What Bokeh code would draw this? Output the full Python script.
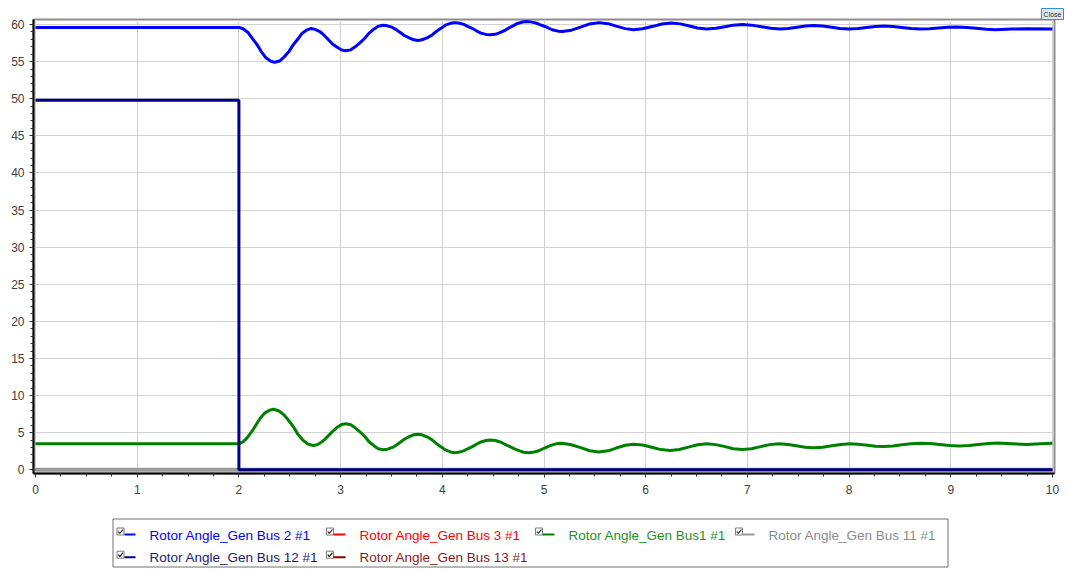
from bokeh.plotting import figure
from bokeh.models import Range1d, SingleIntervalTicker, Title
from bokeh.layouts import column
from bokeh.embed import file_html
from bokeh.resources import INLINE
from bokeh.core.properties import value

# ---------------- data ----------------
bus2_t = [0, 2.0,
          2.04, 2.09, 2.13, 2.18, 2.22, 2.26, 2.31, 2.35,
          2.40, 2.44, 2.49, 2.53, 2.58, 2.62, 2.67, 2.71,
          2.75, 2.80, 2.84, 2.88, 2.92, 2.97, 3.01, 3.05,
          3.10, 3.14, 3.19, 3.24, 3.28, 3.33, 3.37, 3.42,
          3.46, 3.51, 3.55, 3.59, 3.63, 3.68, 3.72, 3.76,
          3.80, 3.85, 3.90, 3.94, 3.99, 4.03, 4.08, 4.12,
          4.16, 4.21, 4.25, 4.30, 4.34, 4.38, 4.43, 4.47,
          4.52, 4.56, 4.61, 4.65, 4.70, 4.74, 4.79, 4.83,
          4.87, 4.92, 4.96, 5.01, 5.05, 5.09, 5.14, 5.18,
          5.27, 5.36, 5.45, 5.54, 5.63, 5.71, 5.80, 5.88,
          5.97, 6.07, 6.16, 6.25, 6.34, 6.43, 6.51, 6.60,
          6.69, 6.78, 6.86, 6.95, 7.04, 7.14, 7.23, 7.32,
          7.40, 7.49, 7.57, 7.65, 7.74, 7.83, 7.91, 8.00,
          8.09, 8.17, 8.26, 8.34, 8.43, 8.52, 8.61, 8.70,
          8.79, 8.88, 8.97, 9.06, 9.16, 9.25, 9.35, 9.44,
          9.60, 9.75, 10.0]
bus2_v = [59.6, 59.6,
          59.42, 58.91, 58.15, 57.25, 56.35, 55.59, 55.08, 54.9,
          55.07, 55.56, 56.31, 57.18, 58.04, 58.79, 59.28, 59.45,
          59.34, 59.01, 58.52, 57.95, 57.38, 56.89, 56.56, 56.45,
          56.58, 56.95, 57.52, 58.18, 58.83, 59.40, 59.77, 59.9,
          59.82, 59.60, 59.27, 58.88, 58.48, 58.15, 57.93, 57.85,
          57.94, 58.20, 58.59, 59.05, 59.51, 59.90, 60.16, 60.25,
          60.19, 60.01, 59.74, 59.43, 59.11, 58.84, 58.66, 58.6,
          58.67, 58.86, 59.16, 59.5, 59.84, 60.14, 60.33, 60.4,
          60.35, 60.20, 59.98, 59.73, 59.47, 59.25, 59.10, 59.05,
          59.23, 59.65, 60.07, 60.25, 60.11, 59.78, 59.44, 59.3,
          59.43, 59.75, 60.07, 60.2, 60.08, 59.8, 59.52, 59.4,
          59.49, 59.7, 59.91, 60.0, 59.91, 59.7, 59.49, 59.4,
          59.47, 59.63, 59.78, 59.85, 59.78, 59.63, 59.47, 59.4,
          59.46, 59.6, 59.74, 59.8, 59.74, 59.6, 59.46, 59.4,
          59.44, 59.53, 59.61, 59.65, 59.6, 59.48, 59.35, 59.3,
          59.38, 59.42, 59.4]

bus1_t = [0, 2.0,
          2.04, 2.08, 2.13, 2.17, 2.21, 2.25, 2.30, 2.34,
          2.39, 2.44, 2.49, 2.54, 2.58, 2.63, 2.68, 2.73,
          2.77, 2.81, 2.85, 2.89, 2.93, 2.97, 3.01, 3.05,
          3.10, 3.14, 3.19, 3.24, 3.28, 3.33, 3.37, 3.42,
          3.46, 3.51, 3.55, 3.59, 3.63, 3.68, 3.72, 3.76,
          3.80, 3.85, 3.90, 3.94, 3.99, 4.03, 4.08, 4.12,
          4.16, 4.21, 4.25, 4.30, 4.34, 4.38, 4.43, 4.47,
          4.52, 4.57, 4.61, 4.66, 4.71, 4.76, 4.80, 4.85,
          4.89, 4.93, 4.97, 5.01, 5.05, 5.09, 5.13, 5.17,
          5.26, 5.36, 5.45, 5.54, 5.63, 5.71, 5.80, 5.88,
          5.97, 6.06, 6.15, 6.24, 6.33, 6.42, 6.51, 6.60,
          6.69, 6.78, 6.86, 6.95, 7.04, 7.13, 7.22, 7.31,
          7.40, 7.48, 7.57, 7.65, 7.74, 7.83, 7.92, 8.01,
          8.09, 8.18, 8.26, 8.34, 8.43, 8.52, 8.61, 8.70,
          8.80, 8.89, 8.99, 9.08, 9.18, 9.27, 9.37, 9.46,
          9.60, 9.75, 9.88, 10.0]
bus1_v = [3.5, 3.5,
          3.75, 4.3, 5.2, 6.1, 6.95, 7.6, 8.02, 8.15,
          7.96, 7.44, 6.64, 5.71, 4.78, 3.98, 3.46, 3.27,
          3.38, 3.70, 4.18, 4.74, 5.29, 5.77, 6.09, 6.2,
          6.07, 5.69, 5.12, 4.45, 3.78, 3.21, 2.83, 2.7,
          2.78, 3.01, 3.35, 3.75, 4.15, 4.49, 4.72, 4.8,
          4.71, 4.44, 4.03, 3.55, 3.07, 2.67, 2.40, 2.3,
          2.36, 2.55, 2.83, 3.15, 3.47, 3.75, 3.94, 4.0,
          3.94, 3.75, 3.47, 3.15, 2.83, 2.55, 2.36, 2.3,
          2.35, 2.49, 2.70, 2.94, 3.18, 3.39, 3.53, 3.58,
          3.41, 2.99, 2.57, 2.4, 2.55, 2.93, 3.30, 3.45,
          3.33, 3.03, 2.72, 2.6, 2.73, 3.05, 3.37, 3.5,
          3.39, 3.12, 2.84, 2.73, 2.84, 3.12, 3.39, 3.5,
          3.42, 3.23, 3.04, 2.96, 3.04, 3.23, 3.42, 3.5,
          3.45, 3.32, 3.18, 3.13, 3.20, 3.36, 3.51, 3.58,
          3.53, 3.40, 3.27, 3.22, 3.28, 3.41, 3.54, 3.6,
          3.5, 3.4, 3.5, 3.58]

bus12_t = [0, 2.0, 2.0, 10.0]
bus12_v = [49.8, 49.8, 0.0, 0.0]
bus11_t = [0, 10.0]
bus11_v = [0.0, 0.0]
bus3_t = [0, 10.0]
bus3_v = [0.0, 0.0]
bus13_t = [0, 10.0]
bus13_v = [0.0, 0.0]

series_labels = ["Rotor Angle_Gen Bus 2 #1", "Rotor Angle_Gen Bus 3 #1",
                 "Rotor Angle_Gen Bus1 #1", "Rotor Angle_Gen Bus 11 #1",
                 "Rotor Angle_Gen Bus 12 #1", "Rotor Angle_Gen Bus 13 #1"]
series_colors = ["#0000ff", "#ff0000", "#008000", "#9a9a9a", "#000080", "#8b0000"]
label_colors = ["#0000ff", "#ff0000", "#1a961a", "#8c8c8c", "#1a1a7a", "#8b1a1a"]

# ---------------- main chart ----------------
close_title = Title(text="Close", align="right", text_font="Liberation Sans",
                    text_font_size="7px", text_font_style="normal", text_color="#333333",
                    background_fill_color="#dfe8f3", border_line_color="#3a8ad8",
                    border_line_width=1, padding=2, standoff=0, offset=-9)

p = figure(width=1066, height=508, x_range=Range1d(-0.02, 10.02), y_range=Range1d(-0.5, 60.67),
           output_backend="svg", toolbar_location=None, title=close_title,
           min_border_left=33, min_border_right=12, min_border_top=19, min_border_bottom=35)
p.background_fill_color = "white"
p.border_fill_color = "white"
p.outline_line_color = "#8c8c8c"
p.outline_line_width = 2

p.xaxis.ticker = SingleIntervalTicker(interval=1, num_minor_ticks=4)
p.yaxis.ticker = SingleIntervalTicker(interval=5, num_minor_ticks=5)
for ax in (p.xaxis, p.yaxis):
    ax.axis_line_color = "black"
    ax.axis_line_width = 2
    ax.major_tick_line_color = "#333333"
    ax.minor_tick_line_color = "#333333"
    ax.major_tick_out = 4
    ax.major_tick_in = 0
    ax.minor_tick_out = 3
    ax.minor_tick_in = 0
    ax.major_label_text_font = "Liberation Sans"
    ax.major_label_text_font_size = "12px"
    ax.major_label_text_color = "#404040"
p.yaxis.major_label_standoff = 5
p.xaxis.major_label_standoff = 7

p.grid.grid_line_color = "#d2d2d2"
p.grid.grid_line_width = 1

p.line(bus3_t, bus3_v, line_color=series_colors[1], line_width=2)
p.line(bus13_t, bus13_v, line_color=series_colors[5], line_width=2)
p.line(bus11_t, bus11_v, line_color=series_colors[3], line_width=4)
p.line(bus1_t, bus1_v, line_color=series_colors[2], line_width=3, line_join="round")
p.line(bus2_t, bus2_v, line_color=series_colors[0], line_width=3, line_join="round")
p.line(bus12_t, bus12_v, line_color=series_colors[4], line_width=3)

# ---------------- legend panel ----------------
# x range mapped so that one unit is one page pixel (frame spans 33..1054)
lg = figure(width=1066, height=62, x_range=Range1d(33, 1054), y_range=Range1d(62, 0),
            output_backend="svg", toolbar_location=None, title=None,
            min_border_left=33, min_border_right=12, min_border_top=0, min_border_bottom=0,
            x_axis_location=None, y_axis_location=None)
lg.outline_line_color = None
lg.grid.visible = False
lg.background_fill_color = "white"
lg.border_fill_color = "white"

lg.quad(left=112.5, right=947.5, top=10.5, bottom=58.5, fill_color=None,
        line_color="#707070", line_width=1)

cb_x = [120, 329.5, 538.5, 738.5, 120, 329.5]
row_text_y = [26.5, 26.5, 26.5, 26.5, 49, 49]
row_cb_y = [23, 23, 23, 23, 46.2, 46.2]
row_line_y = [26, 26, 26, 26, 48.7, 48.7]
line_x0 = [124, 333, 542, 742, 124, 333]
line_x1 = [135, 345, 554, 754, 135, 345]
text_x = [149, 359, 568, 768, 149, 359]

lg.rect(x=cb_x, y=row_cb_y, width=7, height=7, fill_color="white",
        line_color="#7a7a7a", line_width=1)
lg.multi_line(xs=[[x - 2.2, x - 0.7, x + 2.4] for x in cb_x],
              ys=[[y, y + 2, y - 2] for y in row_cb_y],
              line_color="#202020", line_width=1.2)
lg.segment(x0=line_x0, y0=row_line_y, x1=line_x1, y1=row_line_y,
           line_color=series_colors, line_width=2)
lg.text(x=text_x, y=row_text_y, text=series_labels, text_color=label_colors,
        text_font=value("Liberation Sans"), text_font_size="13.5px",
        text_baseline="middle", text_align="left")

layout = column(p, lg, spacing=0)
open("out.html", "w").write(file_html(layout, INLINE))
